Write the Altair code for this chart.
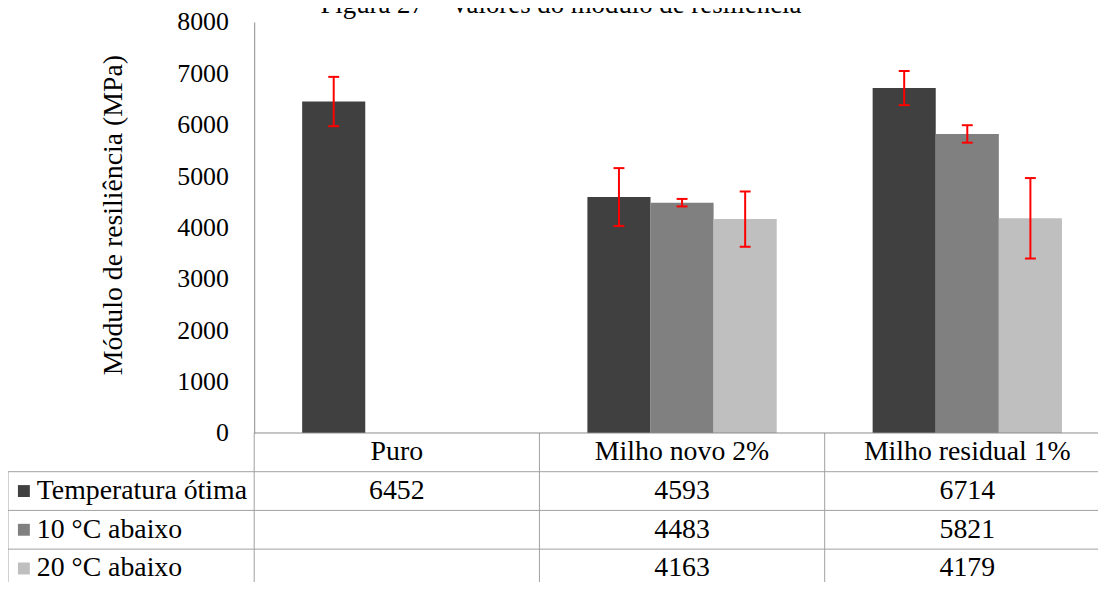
import altair as alt
import pandas as pd

# ---------------- data ----------------
categories = ["Puro", "Milho novo 2%", "Milho residual 1%"]
series = ["Temperatura ótima", "10 °C abaixo", "20 °C abaixo"]
colors = ["#404040", "#808080", "#bfbfbf"]

temp_otima = [6452, 4593, 6714]
abaixo_10 = [None, 4483, 5821]
abaixo_20 = [None, 4163, 4179]

err_otima = [480, 563, 332]
err_10 = [None, 73, 170]
err_20 = [None, 538, 783]

y_ticks = [0, 1000, 2000, 3000, 4000, 5000, 6000, 7000, 8000]
title_text = "Figura 27 – Valores do módulo de resiliência"
y_title = "Módulo de resiliência (MPa)"
header_row = "header"

# ---------------- tables ----------------
recs = []
for s, vals, errs in zip(series, [temp_otima, abaixo_10, abaixo_20], [err_otima, err_10, err_20]):
    for c, v, e in zip(categories, vals, errs):
        if v is None:
            continue
        recs.append(dict(cat=c, series=s, value=v, lo=v - e, hi=v + e, label=str(v), row=s))
df = pd.DataFrame(recs)
header_df = pd.DataFrame({"cat": categories, "row": [header_row] * len(categories)})
rows_df = pd.DataFrame({"series": series, "row": series})
title_df = pd.DataFrame({"t": [title_text]})

FONT = "Liberation Serif"
LINE = "#a0a0a0"
W, H = 862, 570
FS = 28

x_scale = alt.Scale(type="band", domain=categories, paddingInner=0, paddingOuter=0)
xoff_scale = alt.Scale(type="band", domain=series, paddingInner=0, paddingOuter=0.76)
y_scale = alt.Scale(domain=[0, 8000], range=[414, 0], nice=False)
row_scale = alt.Scale(type="band", domain=[header_row] + series, range=[414, 570],
                      paddingInner=0, paddingOuter=0)
color_scale = alt.Scale(domain=series, range=colors)

X = alt.X("cat:N", scale=x_scale, axis=None, sort=categories)
XO = alt.XOffset("series:N", scale=xoff_scale, sort=series)
ROW = alt.Y("row:N", scale=row_scale, axis=None)

bars = alt.Chart(df).mark_bar().encode(
    x=X,
    xOffset=XO,
    y=alt.Y("value:Q", scale=y_scale,
            axis=alt.Axis(values=y_ticks, format="d", grid=False, ticks=False, tickSize=0,
                          labelFont=FONT, labelFontSize=26, labelColor="black",
                          labelPadding=26, domainColor="#8c8c8c", domainWidth=1,
                          title=y_title, titleFont=FONT, titleFontSize=FS,
                          titleFontWeight="normal", titleColor="black",
                          titleX=-134, titleY=194, titleBaseline="alphabetic")),
    color=alt.Color("series:N", scale=color_scale, legend=None),
)

err_rule = alt.Chart(df).mark_rule(color="#ff0000", strokeWidth=2).encode(
    x=X, xOffset=XO,
    y=alt.Y("lo:Q", scale=y_scale, axis=None), y2="hi:Q",
)

err_caps = alt.Chart(df).transform_fold(["lo", "hi"], as_=["end", "yv"]).mark_tick(
    color="#ff0000", size=11, thickness=2, opacity=1
).encode(
    x=X, xOffset=XO,
    y=alt.Y("yv:Q", scale=y_scale, axis=None),
)

header_text = alt.Chart(header_df).mark_text(font=FONT, fontSize=FS, color="black").encode(
    x=X, y=ROW, text="cat:N"
)

value_text = alt.Chart(df).mark_text(font=FONT, fontSize=FS, color="black").encode(
    x=X, y=ROW, text="label:N"
)

row_labels = alt.Chart(rows_df).mark_text(font=FONT, fontSize=FS, color="black",
                                          align="left").encode(
    x=alt.value(-219), y=ROW, text="series:N"
)

row_keys = alt.Chart(rows_df).mark_square(size=144, opacity=1).encode(
    x=alt.value(-232), y=ROW,
    color=alt.Color("series:N", scale=color_scale, legend=None),
)

hlines = alt.Chart(rows_df).mark_rule(color=LINE, strokeWidth=1).encode(
    y=alt.Y("row:N", scale=row_scale, axis=None, bandPosition=0),
    x=alt.value(-248), x2=alt.value(W),
)

axis_line = alt.Chart(header_df.head(1)).mark_rule(color="#8c8c8c", strokeWidth=1).encode(
    y=alt.Y("row:N", scale=row_scale, axis=None, bandPosition=0),
    x=alt.value(0), x2=alt.value(W),
)

vlines = alt.Chart(header_df).mark_rule(color=LINE, strokeWidth=1).encode(
    x=alt.X("cat:N", scale=x_scale, axis=None, sort=categories, bandPosition=0),
    y=alt.value(414), y2=alt.value(H),
)

left_border = alt.Chart(rows_df.head(1)).mark_rule(color=LINE, strokeWidth=1).encode(
    x=alt.value(-248),
    y=alt.Y("row:N", scale=row_scale, axis=None, bandPosition=0),
    y2=alt.value(H),
)

title = alt.Chart(title_df).mark_text(font=FONT, fontSize=27, color="black",
                                      align="center", baseline="alphabetic").encode(
    x=alt.value(309), y=alt.value(-9), text="t:N"
)

chart = alt.layer(
    bars, err_rule, err_caps, hlines, vlines, left_border, axis_line,
    header_text, value_text, row_labels, row_keys, title,
).resolve_scale(y="independent").properties(
    width=W, height=H,
    padding={"left": 248, "top": 12, "right": -12, "bottom": -8},
    autosize=alt.AutoSizeParams(type="none"),
    background="white",
).configure_view(strokeWidth=0)

chart.save("out.html", embed_options={"renderer": "svg", "actions": False})
